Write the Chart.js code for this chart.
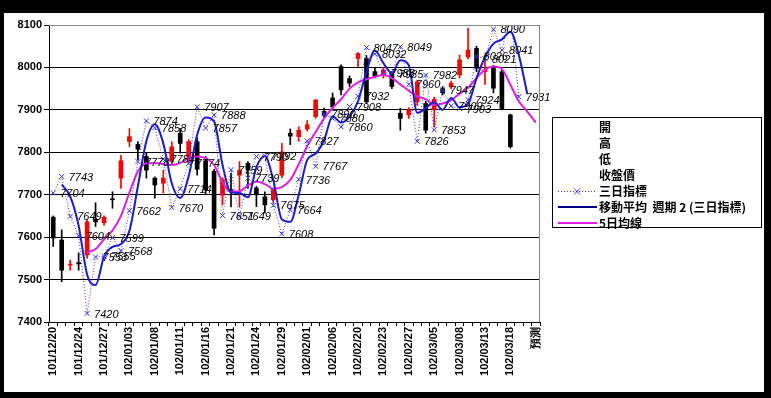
<!DOCTYPE html>
<html lang="zh-Hant">
<head>
<meta charset="UTF-8">
<title>三日指標</title>
<script src="https://cdn.jsdelivr.net/npm/chart.js"></script>
<style>
    html, body { margin: 0; padding: 0; background: #000; }
    #wrap { width: 771px; height: 398px; }
</style>
</head>
<body>
<div id="wrap"><canvas id="kChart" width="771" height="398"></canvas></div>
<script>
    const categories = [
        '101/12/20', '101/12/21', '101/12/22', '101/12/24', '101/12/25', '101/12/26', '101/12/27', '101/12/28',
        '102/01/02', '102/01/03', '102/01/04', '102/01/07', '102/01/08', '102/01/09', '102/01/10', '102/01/11',
        '102/01/14', '102/01/15', '102/01/16', '102/01/17', '102/01/18', '102/01/21', '102/01/22', '102/01/23',
        '102/01/24', '102/01/25', '102/01/28', '102/01/29', '102/01/30', '102/01/31', '102/02/01', '102/02/04',
        '102/02/05', '102/02/06', '102/02/18', '102/02/19', '102/02/20', '102/02/21', '102/02/22', '102/02/23',
        '102/02/25', '102/02/26', '102/02/27', '102/03/01', '102/03/04', '102/03/05', '102/03/06', '102/03/07',
        '102/03/08', '102/03/11', '102/03/12', '102/03/13', '102/03/14', '102/03/15', '102/03/18', '102/03/19',
        '102/03/20', '預測'
    ];

    // 開 高 低 收盤價
    const openP  = [7647, 7593, 7534, 7540, 7558, 7642, 7634, 7690, 7739, 7825, 7819, 7790, 7739, 7727, 7778, 7845,
                    7790, 7825, 7780, 7755, 7699, 7712, 7746, 7774, 7716, 7695, 7688, 7746, 7845, 7837, 7855, 7884,
                    7896, 7928, 8002, 7974, 8021, 8021, 7990, 7982, 7987, 7892, 7888, 7919, 7915, 7900, 7950, 7954,
                    7982, 8025, 8045, 7990, 7998, 7990, 7888, null, null, null];
    const highP  = [7650, 7617, 7546, 7563, 7640, 7681, 7650, 7707, 7793, 7856, 7825, 7800, 7742, 7758, 7825, 7856,
                    7830, 7834, 7790, 7760, 7740, 7751, 7778, 7778, 7720, 7707, 7716, 7821, 7855, 7860, 7875, 7925,
                    7904, 7940, 8006, 7980, 8035, 8028, 7998, 8000, 7990, 7904, 7905, 7970, 7920, 7930, 7955, 7968,
                    8029, 8093, 8050, 8030, 8005, 7995, 7890, null, null, null];
    const lowP   = [7578, 7495, 7522, 7522, 7550, 7625, 7628, 7668, 7715, 7813, 7782, 7739, 7692, 7704, 7770, 7798,
                    7775, 7746, 7700, 7605, 7676, 7671, 7671, 7715, 7672, 7657, 7680, 7740, 7818, 7826, 7850, 7880,
                    7884, 7900, 7935, 7955, 8002, 7915, 7975, 7975, 7950, 7852, 7880, 7910, 7845, 7860, 7935, 7950,
                    7975, 8020, 7990, 7960, 7940, 7900, 7810, null, null, null];
    const closeP = [7598, 7522, 7536, 7537, 7636, 7636, 7647, 7688, 7780, 7837, 7807, 7758, 7723, 7739, 7813, 7821,
                    7825, 7760, 7711, 7621, 7735, 7710, 7758, 7758, 7700, 7676, 7715, 7801, 7838, 7852, 7865, 7923,
                    7888, 7907, 7947, 7963, 8033, 7919, 7980, 7994, 7955, 7880, 7900, 7966, 7852, 7925, 7940, 7963,
                    8018, 8041, 7998, 7995, 7951, 7903, 7813, null, null, null];

    // 三日指標
    const threeDay = [7704, 7743, 7649, 7604, 7420, 7553, 7555, 7599, 7568, 7662, 7778, 7874, 7858, 7784, 7670, 7714,
                      7774, 7907, 7857, 7888, 7651, 7759, 7649, 7739, 7790, 7792, 7675, 7608, 7664, 7736, 7827, 7767,
                      7890, 7880, 7860, 7908, 7932, 8047, 8032, 7988, 7985, 8049, 7960, 7826, 7982, 7853, 7947, 7909,
                      7903, 7924, 8026, 8021, 8090, 8041, 8127, 7931, null, null];

    // 移動平均 週期 2 (三日指標)
    const ma2 = [null, 7724, 7696, 7627, 7512, 7487, 7554, 7577, 7584, 7615, 7720, 7826, 7866, 7821, 7727, 7692,
                 7744, 7841, 7882, 7873, 7770, 7705, 7704, 7694, 7765, 7791, 7734, 7642, 7636, 7700, 7782, 7797,
                 7829, 7885, 7870, 7884, 7920, 7990, 8040, 8010, 7987, 8017, 8005, 7893, 7904, 7918, 7900, 7928,
                 7906, 7914, 7975, 8024, 8056, 8066, 8084, 8029, 7937, null];

    // 5日均線
    const ma5 = [null, null, null, null, 7563, 7572, 7595, 7616, 7650, 7705, 7755, 7774, 7775, 7772, 7770, 7775,
                 7786, 7790, 7786, 7770, 7730, 7707, 7708, 7722, 7731, 7725, 7714, 7718, 7735, 7772, 7815, 7848,
                 7880, 7905, 7925, 7950, 7965, 7972, 7978, 7982, 7975, 7960, 7945, 7932, 7925, 7912, 7915, 7923,
                 7938, 7952, 7975, 7995, 8002, 7996, 7959, 7920, 7896, 7870];

    const yMin = 7400, yMax = 8100, yStep = 100;

    const bodies = categories.map((c, i) => openP[i] == null ? null : [openP[i], closeP[i]]);
    const wicks = categories.map((c, i) => lowP[i] == null ? null : [lowP[i], highP[i]]);
    const candleColors = categories.map((c, i) => closeP[i] != null && closeP[i] > openP[i] ? '#ff0000' : '#000000');

    const tickFont = { family: '"Liberation Sans", Arial, sans-serif', size: 11, weight: 'bold' };

    // 背景與外框
    const framePlugin = {
        id: 'frame',
        beforeDraw(chart) {
            const c = chart.ctx;
            c.save();
            c.fillStyle = '#000';
            c.fillRect(0, 0, chart.width, chart.height);
            c.fillStyle = '#fff';
            c.fillRect(4, 13, 760, 379);
            c.restore();
        },
        afterDraw(chart) {
            const c = chart.ctx;
            const a = chart.chartArea;
            c.save();
            c.strokeStyle = '#888';
            c.lineWidth = 1;
            c.beginPath();
            c.moveTo(a.left, a.top + 0.5);
            c.lineTo(a.right - 0.5, a.top + 0.5);
            c.lineTo(a.right - 0.5, a.bottom);
            c.stroke();

            // 圖例
            const lx = 552, ly = 117;
            c.fillStyle = '#fff';
            c.fillRect(lx, ly, 209, 110);
            c.strokeStyle = '#000';
            c.strokeRect(lx + 0.5, ly + 0.5, 209, 110);
            const rows = ['開', '高', '低', '收盤價', '三日指標', '移動平均  週期 2 (三日指標)', '5日均線'];
            c.font = 'bold 12px "Noto Sans CJK TC", sans-serif';
            c.fillStyle = '#000';
            c.textBaseline = 'middle';
            c.textAlign = 'left';
            rows.forEach((t, i) => {
                c.fillText(t, lx + 47, ly + 10 + i * 16);
            });
            // 三日指標 symbol
            let yy = ly + 10 + 4 * 16 + 0.5;
            c.strokeStyle = '#3333ff';
            c.setLineDash([1, 2]);
            c.beginPath(); c.moveTo(lx + 6, yy); c.lineTo(lx + 44, yy); c.stroke();
            c.setLineDash([]);
            c.beginPath();
            c.moveTo(lx + 22, yy - 3); c.lineTo(lx + 28, yy + 3);
            c.moveTo(lx + 28, yy - 3); c.lineTo(lx + 22, yy + 3);
            c.stroke();
            yy = ly + 10 + 5 * 16;
            c.strokeStyle = '#000080';
            c.lineWidth = 2;
            c.beginPath(); c.moveTo(lx + 6, yy); c.lineTo(lx + 45, yy); c.stroke();
            yy = ly + 10 + 6 * 16;
            c.strokeStyle = '#e020e0';
            c.beginPath(); c.moveTo(lx + 6, yy); c.lineTo(lx + 45, yy); c.stroke();
            c.restore();
        }
    };

    // 三日指標 數值標籤
    const labelPlugin = {
        id: 'pointLabels',
        afterDatasetsDraw(chart) {
            const c = chart.ctx;
            const meta = chart.getDatasetMeta(0);
            c.save();
            c.font = 'italic 11px "Liberation Sans", Arial, sans-serif';
            c.fillStyle = '#000';
            c.textAlign = 'left';
            c.textBaseline = 'middle';
            meta.data.forEach((pt, i) => {
                const v = threeDay[i];
                if (v == null || v > yMax || v < yMin) return;
                c.fillText(String(v), pt.x + 7, pt.y + 1);
            });
            c.restore();
        }
    };

    const ctx = document.getElementById('kChart').getContext('2d');
    const kChart = new Chart(ctx, {
        type: 'bar',
        data: {
            labels: categories,
            datasets: [
                {
                    type: 'line',
                    label: '三日指標',
                    data: threeDay,
                    borderColor: '#3333ff',
                    borderWidth: 1,
                    borderDash: [1, 2],
                    pointStyle: 'crossRot',
                    pointRadius: 3.5,
                    pointBorderWidth: 1,
                    pointBorderColor: '#3333ff',
                    tension: 0,
                    order: 1
                },
                {
                    type: 'line',
                    label: '移動平均 週期 2 (三日指標)',
                    data: ma2,
                    borderColor: '#1a1ad0',
                    borderWidth: 2,
                    pointRadius: 0,
                    cubicInterpolationMode: 'monotone',
                    order: 2
                },
                {
                    type: 'line',
                    label: '5日均線',
                    data: ma5,
                    borderColor: '#e020e0',
                    borderWidth: 2,
                    pointRadius: 0,
                    cubicInterpolationMode: 'monotone',
                    order: 3
                },
                {
                    label: '高低',
                    data: wicks,
                    backgroundColor: candleColors,
                    barThickness: 1,
                    grouped: false,
                    order: 5
                },
                {
                    label: '開收',
                    data: bodies,
                    backgroundColor: candleColors,
                    barThickness: 4,
                    minBarLength: 1,
                    grouped: false,
                    order: 4
                }
            ]
        },
        options: {
            responsive: false,
            animation: false,
            devicePixelRatio: 1,
            layout: { padding: { left: 4, top: 25, right: 231, bottom: 0 } },
            plugins: {
                legend: { display: false },
                tooltip: { enabled: false }
            },
            scales: {
                x: {
                    type: 'category',
                    offset: true,
                    grid: { offset: true, drawOnChartArea: false, color: '#000', tickLength: 4 },
                    border: { color: '#000' },
                    ticks: {
                        autoSkip: false,
                        minRotation: 90,
                        maxRotation: 90,
                        padding: 1,
                        color: '#000',
                        font: tickFont,
                        callback: (v, i) => (i % 3 === 0 ? categories[i] : '')
                    },
                    afterFit: (s) => { s.height = 76; }
                },
                y: {
                    min: yMin,
                    max: yMax,
                    grid: { color: '#000', tickLength: 5 },
                    border: { color: '#000' },
                    ticks: { stepSize: yStep, color: '#000', font: tickFont, padding: 2, callback: (v) => String(v) },
                    afterFit: (s) => { s.width = 45; }
                }
            }
        },
        plugins: [framePlugin, labelPlugin]
    });
</script>
</body>
</html>
